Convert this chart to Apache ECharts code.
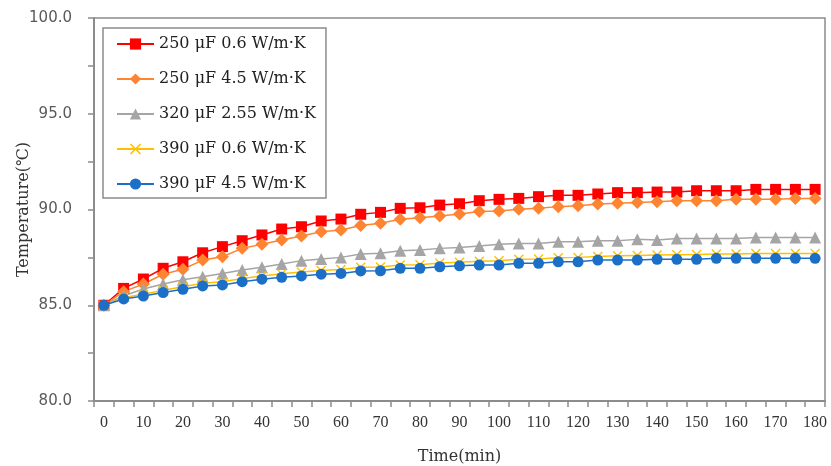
<!DOCTYPE html>
<html>
<head>
<meta charset="utf-8">
<title>Temperature vs time</title>
<script src="https://cdn.jsdelivr.net/npm/echarts@6/dist/echarts.min.js"></script>
<style>
  html, body { margin: 0; padding: 0; background: #fff; }
  #chart { width: 831px; height: 466px; }
</style>
</head>
<body>
<div id="chart"></div>
<script>
// time in minutes, one sample every 5 min
const times = [0, 5, 10, 15, 20, 25, 30, 35, 40, 45, 50, 55, 60, 65, 70, 75, 80, 85, 90,
  95, 100, 105, 110, 115, 120, 125, 130, 135, 140, 145, 150, 155, 160, 165, 170, 175, 180]

const seriesNames = [
  '250 μF 0.6 W/m·K',
  '250 μF 4.5 W/m·K',
  '320 μF 2.55 W/m·K',
  '390 μF 0.6 W/m·K',
  '390 μF 4.5 W/m·K',
]

const temp250_06 = [85.0, 85.88, 86.37, 86.93, 87.27, 87.74, 88.06, 88.37, 88.67, 88.98, 89.10, 89.40,
  89.50, 89.75, 89.85, 90.06, 90.09, 90.23, 90.30, 90.46, 90.53, 90.58, 90.67, 90.74, 90.74, 90.81,
  90.88, 90.88, 90.91, 90.91, 90.98, 90.98, 90.98, 91.05, 91.05, 91.05, 91.05]
const temp250_45 = [85.0, 85.71, 86.11, 86.62, 86.88, 87.36, 87.53, 87.97, 88.18, 88.41, 88.62, 88.84,
  88.93, 89.16, 89.28, 89.49, 89.57, 89.66, 89.77, 89.89, 89.92, 90.01, 90.06, 90.15, 90.20, 90.29,
  90.32, 90.36, 90.41, 90.46, 90.46, 90.46, 90.53, 90.53, 90.53, 90.58, 90.58]
const temp320_255 = [85.0, 85.5, 85.85, 86.11, 86.33, 86.49, 86.66, 86.84, 86.98, 87.15, 87.33, 87.42,
  87.50, 87.68, 87.71, 87.85, 87.89, 87.97, 88.01, 88.09, 88.18, 88.23, 88.23, 88.32, 88.32, 88.37,
  88.37, 88.44, 88.41, 88.49, 88.49, 88.49, 88.49, 88.54, 88.54, 88.54, 88.54]
const temp390_06 = [85.0, 85.4, 85.58, 85.78, 85.97, 86.15, 86.23, 86.4, 86.53, 86.64, 86.73, 86.82,
  86.87, 86.98, 87.0, 87.1, 87.12, 87.2, 87.25, 87.3, 87.32, 87.4, 87.42, 87.48, 87.5, 87.55,
  87.58, 87.6, 87.62, 87.64, 87.65, 87.68, 87.68, 87.7, 87.7, 87.7, 87.7]
const temp390_45 = [85.0, 85.33, 85.48, 85.66, 85.83, 86.01, 86.06, 86.23, 86.36, 86.46, 86.53, 86.62,
  86.66, 86.79, 86.80, 86.93, 86.93, 87.01, 87.06, 87.10, 87.10, 87.19, 87.19, 87.27, 87.27, 87.36,
  87.36, 87.36, 87.40, 87.40, 87.40, 87.45, 87.45, 87.45, 87.45, 87.45, 87.45]

const seriesData = [temp250_06, temp250_45, temp320_255, temp390_06, temp390_45]

const colors = ['#FF0000', '#FF8431', '#A5A5A5', '#FFC000', '#1C6FC6']
const symbols = [
  'rect',
  'diamond',
  'triangle',
  // thin "x" cross
  'path://M0,1L1,0L5,4L9,0L10,1L6,5L10,9L9,10L5,6L1,10L0,9L4,5Z',
  'circle',
]
const symbolSizes = [11, 13, 12, 10, 11]

const axisGray = '#8C8C8C'
const serif = 'DejaVu Serif'

const chart = echarts.init(document.getElementById('chart'))

const option = {
  animation: false,
  grid: {
    left: 94,
    top: 18,
    right: 6,
    bottom: 65,
    outerBoundsMode: 'none',
    containLabel: false,
    show: true,
    borderColor: axisGray,
    borderWidth: 1.5,
    backgroundColor: 'transparent',
  },
  legend: {
    orient: 'vertical',
    left: 103,
    top: 28,
    padding: [8, 10, 6, 13],
    itemGap: 19,
    itemWidth: 37,
    itemHeight: 14,
    backgroundColor: '#fff',
    borderColor: axisGray,
    borderWidth: 1.5,
    textStyle: { fontFamily: serif, fontSize: 16, color: '#222', lineHeight: 16 },
    data: seriesNames,
  },
  xAxis: {
    type: 'category',
    data: times,
    boundaryGap: true,
    name: 'Time(min)',
    nameLocation: 'middle',
    nameGap: 48,
    nameTextStyle: { fontFamily: serif, fontSize: 16, color: '#333' },
    axisLine: { lineStyle: { color: axisGray, width: 2 } },
    axisTick: { show: true, interval: 0, length: 6, lineStyle: { color: axisGray, width: 1.5 } },
    axisLabel: {
      interval: 1,
      margin: 14,
      fontFamily: 'Liberation Serif',
      fontSize: 16,
      color: '#333',
    },
    splitLine: { show: false },
  },
  yAxis: {
    type: 'value',
    min: 80,
    max: 100,
    interval: 2.5,
    name: 'Temperature(℃)',
    nameLocation: 'middle',
    nameGap: 62,
    nameMoveOverlap: false,
    nameTextStyle: { fontFamily: serif, fontSize: 16, color: '#333' },
    axisLine: { show: true, lineStyle: { color: axisGray, width: 2 } },
    axisTick: { show: true, length: 6, lineStyle: { color: axisGray, width: 1.5 } },
    axisLabel: {
      margin: 22,
      fontFamily: 'DejaVu Sans',
      fontSize: 15,
      color: '#595959',
      formatter: v => (v % 5 === 0 ? v.toFixed(1) : ''),
    },
    splitLine: { show: false },
  },
  series: seriesNames.map((name, i) => ({
    name,
    type: 'line',
    data: seriesData[i],
    symbol: symbols[i],
    symbolSize: symbolSizes[i],
    showAllSymbol: true,
    color: colors[i],
    lineStyle: { color: colors[i], width: 1.5 },
    itemStyle: { color: colors[i] },
    emphasis: { disabled: true },
  })),
}

chart.setOption(option)
</script>
</body>
</html>
